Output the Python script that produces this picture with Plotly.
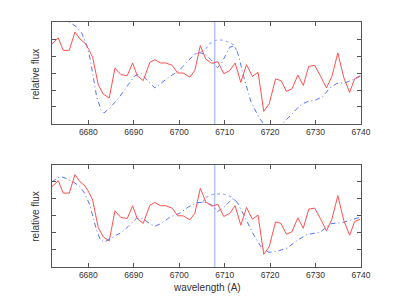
import plotly.graph_objects as go
from plotly.subplots import make_subplots

# Observed spectrum (same in both panels)
obs_wave = [6672.0, 6673.38, 6674.48, 6675.80, 6677.05, 6678.15, 6679.25, 6680.13, 6680.95,
            6682.18, 6683.28, 6684.60, 6685.85, 6687.17, 6688.55, 6689.74, 6690.75, 6692.07,
            6693.54, 6694.64, 6695.89, 6697.05, 6698.44, 6699.63, 6700.86, 6702.33, 6703.43,
            6704.64, 6705.85, 6707.20, 6708.50, 6709.80, 6711.10, 6712.30, 6713.55, 6714.80,
            6716.10, 6717.35, 6718.60, 6719.80, 6721.20, 6722.40, 6723.60, 6724.80, 6726.10,
            6727.30, 6728.50, 6729.80, 6731.05, 6732.40, 6733.60, 6734.90, 6736.20, 6737.50,
            6738.60, 6739.85]
obs_flux = [1.171, 1.206, 1.133, 1.133, 1.241, 1.200, 1.176, 1.137, 1.092,
            0.931, 0.876, 0.853, 1.029, 0.990, 0.984, 1.059, 0.984, 0.955,
            1.062, 1.078, 1.059, 1.059, 1.045, 1.000, 1.000, 0.976, 1.015,
            1.161, 1.081, 1.057, 1.067, 0.996, 1.014, 1.059, 0.945, 1.049,
            0.980, 1.004, 0.774, 0.819, 0.965, 0.955, 0.892, 0.906, 0.988,
            0.927, 1.039, 1.045, 0.984, 0.912, 0.980, 1.118, 0.974, 0.886,
            0.967, 0.980]

# Top panel model (with Li)
top_wave = [6672.0, 6673.76, 6675.8, 6677.43, 6678.53, 6679.63, 6680.35, 6681.08, 6681.82,
            6682.77, 6683.43, 6684.75, 6686.95, 6688.77, 6690.24, 6691.71, 6693.16, 6694.64,
            6696.11, 6697.93, 6699.76, 6701.6, 6703.43, 6704.53, 6705.85, 6706.95, 6708.42,
            6709.36, 6710.24, 6711.12, 6712.07, 6712.77, 6713.16, 6714.26, 6715.73, 6717.56,
            6718.66, 6720.13, 6721.45, 6722.84, 6724.68, 6726.51, 6727.98, 6730.18, 6731.63,
            6733.1, 6734.57, 6736.77, 6738.22, 6739.85]
top_flux = [1.361, 1.337, 1.300, 1.271, 1.235, 1.166, 1.088, 0.980, 0.862,
            0.784, 0.765, 0.794, 0.862, 0.931, 0.984, 0.996, 0.951, 0.912,
            0.941, 0.980, 1.009, 1.059, 1.112, 1.119, 1.108, 1.078, 1.031,
            1.061, 1.109, 1.152, 1.159, 1.125, 1.090, 0.972, 0.835, 0.737,
            0.698, 0.667, 0.661, 0.706, 0.755, 0.808, 0.829, 0.843, 0.862,
            0.912, 0.937, 0.945, 0.961, 0.984]
# Top panel model (no Li), only where it departs
top_noli_wave = [6703.43, 6704.53, 6705.85, 6707.17, 6708.5, 6709.8, 6711.1, 6712.07, 6712.77]
top_noli_flux = [1.112, 1.119, 1.143, 1.184, 1.196, 1.192, 1.178, 1.164, 1.125]

# Bottom panel model (with Li)
bot_wave = [6671.93, 6673.76, 6675.23, 6676.68, 6678.15, 6679.25, 6680.35, 6681.08, 6681.82,
            6682.55, 6683.43, 6684.75, 6686.95, 6688.77, 6690.62, 6692.07, 6693.54, 6694.64,
            6696.11, 6697.93, 6700.13, 6701.96, 6703.8, 6705.25, 6705.85, 6707.3, 6708.42,
            6709.87, 6711.71, 6712.6, 6713.16, 6714.64, 6716.46, 6718.31, 6719.76, 6721.6,
            6723.8, 6725.91, 6728.1, 6731.05, 6733.25, 6736.17, 6737.7, 6739.85]
bot_flux = [1.198, 1.231, 1.218, 1.198, 1.172, 1.129, 1.061, 0.992, 0.914,
            0.865, 0.845, 0.865, 0.898, 0.937, 0.986, 0.982, 0.953, 0.939,
            0.956, 0.992, 1.015, 1.051, 1.076, 1.080, 1.078, 1.061, 1.025,
            1.051, 1.100, 1.084, 1.061, 0.982, 0.884, 0.806, 0.786, 0.792,
            0.812, 0.855, 0.890, 0.904, 0.953, 0.962, 0.976, 0.992]
bot_noli_wave = [6703.8, 6705.25, 6705.85, 6707.3, 6709.14, 6710.96, 6712.6]
bot_noli_flux = [1.076, 1.080, 1.109, 1.125, 1.129, 1.119, 1.084]

li_line = 6707.8
x_ticks = [6680, 6690, 6700, 6710, 6720, 6730, 6740]

RED = "#ff5050"
BLUE = "#5573ff"
BLUE_LIGHT = "#9aaeff"

fig = make_subplots(rows=2, cols=1, vertical_spacing=0.165)

for row, (mw, mf, nw, nf) in enumerate(
        [(top_wave, top_flux, top_noli_wave, top_noli_flux),
         (bot_wave, bot_flux, bot_noli_wave, bot_noli_flux)], start=1):
    fig.add_trace(go.Scatter(x=nw, y=nf, mode="lines",
                             line=dict(color=BLUE_LIGHT, width=1.1, dash="dot"),
                             showlegend=False), row=row, col=1)
    fig.add_trace(go.Scatter(x=mw, y=mf, mode="lines",
                             line=dict(color=BLUE, width=1.0, dash="5px,3px,1px,3px"),
                             showlegend=False), row=row, col=1)
    fig.add_trace(go.Scatter(x=obs_wave, y=obs_flux, mode="lines",
                             line=dict(color=RED, width=1.0),
                             showlegend=False), row=row, col=1)
    xref = "x" if row == 1 else "x2"
    yref = "y domain" if row == 1 else "y2 domain"
    fig.add_shape(type="line", xref=xref, yref=yref, x0=li_line, x1=li_line, y0=0, y1=1,
                  line=dict(color="#b4c2ff", width=1.5), layer="below")

axis_common = dict(showgrid=False, zeroline=False, showline=True, linecolor="#555555",
                   linewidth=1, mirror="ticks", ticks="inside", ticklen=4,
                   tickcolor="#555555",
                   tickfont=dict(family="Liberation Sans", size=8.5, color="#333333"))
for row in (1, 2):
    fig.update_xaxes(range=[6672, 6740], tickvals=x_ticks,
                     ticktext=[str(v) for v in x_ticks], **axis_common, row=row, col=1)
    fig.update_yaxes(range=[0.7, 1.3], tickvals=[0.8, 0.9, 1.0, 1.1, 1.2],
                     showticklabels=False, **axis_common, row=row, col=1)

fig.update_layout(
    width=399, height=300,
    margin=dict(l=44, r=46, t=14, b=41),
    paper_bgcolor="white", plot_bgcolor="white",
    font=dict(family="Liberation Sans", color="#333333"),
    annotations=[
        dict(text="relative flux", xref="paper", yref="paper", x=-0.052, y=0.79,
             textangle=-90, showarrow=False, xanchor="center", yanchor="middle",
             font=dict(size=10, family="Liberation Sans", color="#333333")),
        dict(text="relative flux", xref="paper", yref="paper", x=-0.052, y=0.209,
             textangle=-90, showarrow=False, xanchor="center", yanchor="middle",
             font=dict(size=10, family="Liberation Sans", color="#333333")),
        dict(text="wavelength (A)", xref="paper", yref="paper", x=0.5, y=-0.085,
             showarrow=False, xanchor="center", yanchor="middle",
             font=dict(size=10, family="Liberation Sans", color="#333333")),
    ],
)
fig.update_yaxes(domain=[0.5837, 1.0], row=1, col=1)
fig.update_yaxes(domain=[0.0, 0.418], row=2, col=1)

fig.write_html("out.html")
